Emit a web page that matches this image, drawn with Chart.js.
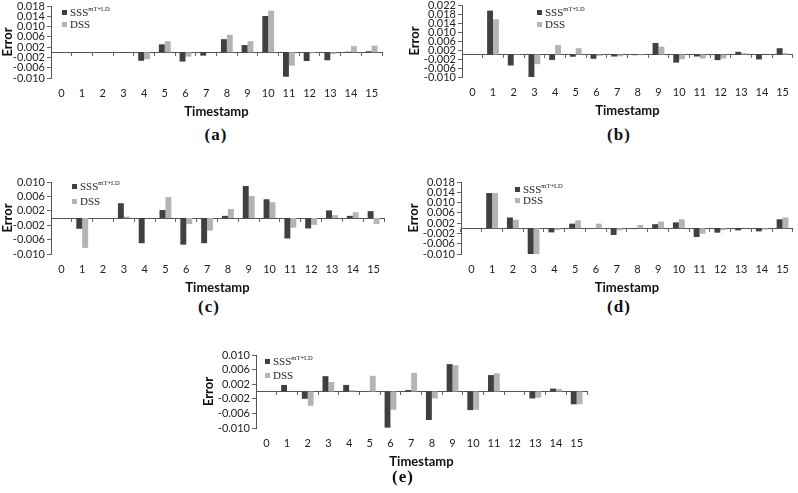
<!DOCTYPE html>
<html><head><meta charset="utf-8">
<script src="https://cdn.jsdelivr.net/npm/chart.js@4.4.0/dist/chart.umd.min.js"></script>
<style>
html,body{margin:0;padding:0;background:#fff;width:798px;height:493px;overflow:hidden;position:relative;}
canvas{position:absolute;}
.sw{position:absolute;width:5px;height:5px;}
.lt{position:absolute;font-family:"Liberation Serif","Times New Roman",serif;font-size:11px;line-height:12px;color:#222;white-space:nowrap;}
.lt sup{font-size:6.5px;line-height:6px;vertical-align:5px;}
.letter{position:absolute;font-family:"Liberation Serif","Times New Roman",serif;font-weight:bold;font-size:17px;letter-spacing:1px;color:#111;transform:translate(-50%,-50%);white-space:nowrap;}
</style>
</head><body>
<script>
// ---------- DATA ----------
const categories = ['0','1','2','3','4','5','6','7','8','9','10','11','12','13','14','15'];
const seriesNames = ['SSS', 'DSS'];
const seriesSup = ['mT+LD', ''];
const panelLetters = ['(a)', '(b)', '(c)', '(d)', '(e)'];
const xTitle = 'Timestamp';
const yTitle = 'Error';

const sssA = [0, -0.0001, 0, -0.0002, -0.0033, 0.0031, -0.0036, -0.0013, 0.0051, 0.0028, 0.0141, -0.0095, -0.0034, -0.0031, 0.0002, 0.0004];
const dssA = [0, 0, 0, 0, -0.0027, 0.0043, -0.0017, 0, 0.0068, 0.0043, 0.0162, -0.0052, -0.0004, -0.0007, 0.0024, 0.0026];
const ticksA = [-0.010, -0.006, -0.002, 0.002, 0.006, 0.010, 0.014, 0.018];

const sssB = [0, 0.0195, -0.0049, -0.0109, -0.0024, -0.0010, -0.0019, -0.0009, -0.0003, 0.0051, -0.0036, -0.0009, -0.0025, 0.0012, -0.0022, 0.0028];
const dssB = [0, 0.0156, -0.0002, -0.0043, 0.0042, 0.0028, -0.0006, -0.0008, -0.0003, 0.0035, -0.0021, -0.0018, -0.0018, 0.0006, 0, 0.0006];
const ticksB = [-0.010, -0.006, -0.002, 0.002, 0.006, 0.010, 0.014, 0.018, 0.022];

const sssC = [0, -0.0030, 0, 0.0041, -0.0070, 0.0022, -0.0074, -0.0070, 0.0006, 0.0089, 0.0052, -0.0057, -0.0029, 0.0021, 0.0006, 0.0019];
const dssC = [0, -0.0083, 0, 0.0004, 0, 0.0058, -0.0017, -0.0035, 0.0025, 0.0061, 0.0044, -0.0027, -0.0019, 0.0008, 0.0016, -0.0017];
const ticksC = [-0.010, -0.006, -0.002, 0.002, 0.006, 0.010];

const sssD = [0, 0.0137, 0.0042, -0.0107, -0.0016, 0.0018, 0, -0.0026, -0.0003, 0.0016, 0.0023, -0.0034, -0.0017, -0.0008, -0.0012, 0.0035];
const dssD = [0, 0.0137, 0.0033, -0.0107, -0.0007, 0.0031, 0.0018, -0.0008, 0.0013, 0.0026, 0.0035, -0.0021, -0.0007, 0, -0.0005, 0.0042];
const ticksD = [-0.010, -0.006, -0.002, 0.002, 0.006, 0.010, 0.014, 0.018];

const sssE = [0, 0.0018, -0.0020, 0.0042, 0.0018, 0, -0.0099, 0.0004, -0.0078, 0.0075, -0.0051, 0.0045, 0, -0.0019, 0.0008, -0.0035];
const dssE = [0, 0, -0.0039, 0.0026, 0.0004, 0.0043, -0.0050, 0.0051, -0.0019, 0.0072, -0.0050, 0.0050, 0, -0.0017, 0.0007, -0.0035];
const ticksE = [-0.010, -0.006, -0.002, 0.002, 0.006, 0.010];

// ---------- LAYOUT ----------
const panels = [
  {sss:sssA, dss:dssA, ticks:ticksA, cl:0,   cr:400, pl:51,  pr:382, pt:6,   pb:78,  leg:{x:62, y1:10, y2:22}, let:{x:216, y:135}},
  {sss:sssB, dss:dssB, ticks:ticksB, cl:407, cr:798, pl:462, pr:796, pt:5,   pb:77,  leg:{x:537, y1:10, y2:22}, let:{x:619, y:135}},
  {sss:sssC, dss:dssC, ticks:ticksC, cl:0,   cr:400, pl:51,  pr:384, pt:182, pb:254, leg:{x:72, y1:184, y2:199}, let:{x:209, y:307}},
  {sss:sssD, dss:dssD, ticks:ticksD, cl:406, cr:798, pl:461, pr:796, pt:182, pb:254, leg:{x:515, y1:187, y2:198}, let:{x:619, y:307}},
  {sss:sssE, dss:dssE, ticks:ticksE, cl:201, cr:600, pl:256, pr:587, pt:355, pb:428, leg:{x:265, y1:359, y2:373}, let:{x:403, y:477}}
];
const colors = ['#404040', '#b4b4b4'];
const PAD_TOP = 12, X_H = 42;

function addLegend(leg) {
  const rows = [leg.y1, leg.y2];
  rows.forEach((y, i) => {
    const sw = document.createElement('div');
    sw.className = 'sw';
    sw.style.left = leg.x + 'px'; sw.style.top = y + 'px'; sw.style.background = colors[i];
    document.body.appendChild(sw);
    const t = document.createElement('div');
    t.className = 'lt';
    t.style.left = (leg.x + 8) + 'px'; t.style.top = (y + 2.5 - 6.5) + 'px';
    t.textContent = seriesNames[i];
    if (seriesSup[i]) { const s = document.createElement('sup'); s.textContent = seriesSup[i]; t.appendChild(s); }
    document.body.appendChild(t);
  });
}

panels.forEach((p, idx) => {
  const cv = document.createElement('canvas');
  const W = p.cr - p.cl;
  const H = PAD_TOP + (p.pb - p.pt) + X_H;
  cv.width = W; cv.height = H;
  cv.style.left = p.cl + 'px'; cv.style.top = (p.pt - PAD_TOP) + 'px';
  cv.style.width = W + 'px'; cv.style.height = H + 'px';
  document.body.appendChild(cv);
  const yW = p.pl - p.cl;
  const tks = p.ticks;
  new Chart(cv, {
    type: 'bar',
    data: {
      labels: categories,
      datasets: [
        {label: seriesNames[0], data: p.sss, backgroundColor: colors[0], xAxisID:'x', yAxisID:'y', categoryPercentage:0.57, barPercentage:1.0, borderWidth:0},
        {label: seriesNames[1], data: p.dss, backgroundColor: colors[1], xAxisID:'x', yAxisID:'y', categoryPercentage:0.57, barPercentage:1.0, borderWidth:0}
      ]
    },
    options: {
      responsive: false, animation: false, devicePixelRatio: 1,
      layout: {padding: {top: PAD_TOP, left: 0, right: p.cr - p.pr, bottom: 0}},
      plugins: {legend: {display:false}, tooltip: {enabled:false}, title:{display:false}},
      scales: {
        x: {
          type: 'category', position: {y: 0}, offset: true,
          grid: {display: true, drawOnChartArea: false, drawTicks: true, tickLength: 3, offset: true, color: '#666'},
          border: {display: true, color: '#555', width: 1},
          ticks: {display: false}
        },
        x2: {
          type: 'category', position: 'bottom', offset: true,
          grid: {display: false, drawTicks: false, tickLength: 0}, border: {display: false},
          ticks: {padding: 9, color: '#222', font: {family: 'Lato', size: 11}, maxRotation: 0, autoSkip: false},
          title: {display: true, text: xTitle, color: '#111', font: {family: 'Lato', size: 13, weight: 'bold'}, padding: {top: 0, bottom: 0}},
          afterFit: (s) => { s.height = X_H; }
        },
        y: {
          type: 'linear', position: 'left',
          min: tks[0], max: tks[tks.length - 1],
          afterBuildTicks: (s) => { s.ticks = tks.map(v => ({value: v})); },
          grid: {display: true, drawOnChartArea: false, drawTicks: true, tickLength: 4, color: '#666'},
          border: {display: true, color: '#555', width: 1},
          ticks: {padding: 2, autoSkip: false, color: '#222', font: {family: 'Lato', size: 11}, callback: (v) => Number(v).toFixed(3)},
          title: {display: true, text: yTitle, color: '#111', font: {family: 'Lato', size: 13, weight: 'bold'}, padding: {top: 0, bottom: 0}},
          afterFit: (s) => { s.width = yW; }
        }
      }
    }
  });
  addLegend(p.leg);
  const L = document.createElement('div');
  L.className = 'letter';
  L.style.left = p.let.x + 'px'; L.style.top = p.let.y + 'px';
  L.textContent = panelLetters[idx];
  document.body.appendChild(L);
});
</script>
</body></html>
